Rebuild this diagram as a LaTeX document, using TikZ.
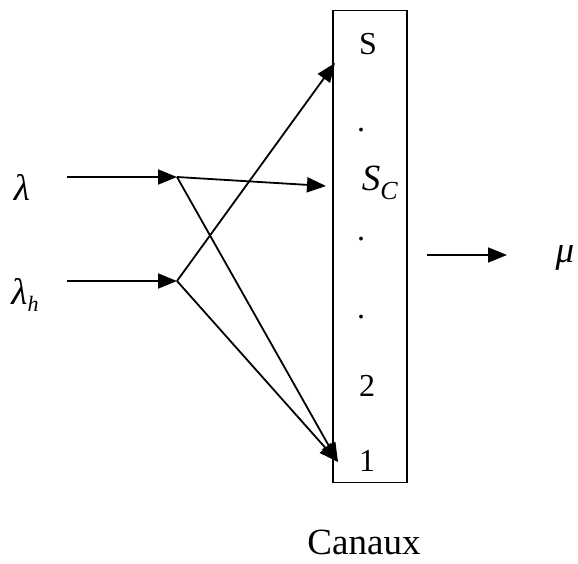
\documentclass[tikz,border=0pt]{standalone}
\usepackage{fontspec}
\setmainfont{Liberation Serif}
\usetikzlibrary{arrows.meta}
\begin{document}
\begin{tikzpicture}[x=1pt,y=-1pt,
  arr/.style={line width=1.8pt,-{Triangle[length=19pt,width=15pt]}},
  lbl/.style={inner sep=0pt,font=\fontsize{32}{36}\selectfont},
  big/.style={inner sep=0pt,font=\fontsize{37}{40}\selectfont}]
\useasboundingbox (0,0) rectangle (578,563);
\node[draw,line width=1.3pt,minimum width=74pt,minimum height=472pt,inner sep=0pt] (box) at (370,246.5) {};
\node[lbl] (s) at (368,44) {S};
\node[lbl] (d1) at (361,130) {.};
\node[big] (sc) at (380,183) {\textit{S}\raisebox{-0.25em}{\fontsize{26}{28}\selectfont\textit{C}}};
\node[lbl] (d2) at (361,239) {.};
\node[lbl] (d3) at (361,317) {.};
\node[lbl] (n2) at (367,386) {2};
\node[lbl] (n1) at (367,461) {1};
\node[big] (lam) at (22,187) {\textit{λ}};
\node[big] (lamh) at (25,295) {\textit{λ}\raisebox{-0.2em}{\fontsize{22}{24}\selectfont\textit{h}}};
\node[big] (mu) at (565,258) {\textit{μ}};
\node[big] (can) at (364,542) {Canaux};
\coordinate (a0) at (67,177);
\coordinate (a) at (177,177);
\coordinate (b0) at (67,281);
\coordinate (b) at (177,281);
\coordinate (tS) at (335,63);
\coordinate (tC) at (326,186);
\coordinate (t1) at (338,462);
\coordinate (o0) at (427,255);
\coordinate (o1) at (507,255);
\draw[arr] (a0) -- (a);
\draw[arr] (b0) -- (b);
\draw[arr] (a) -- (tC);
\draw[arr] (a) -- (t1);
\draw[arr] (b) -- (tS);
\draw[arr] (b) -- (t1);
\draw[arr] (o0) -- (o1);
\end{tikzpicture}
\end{document}
